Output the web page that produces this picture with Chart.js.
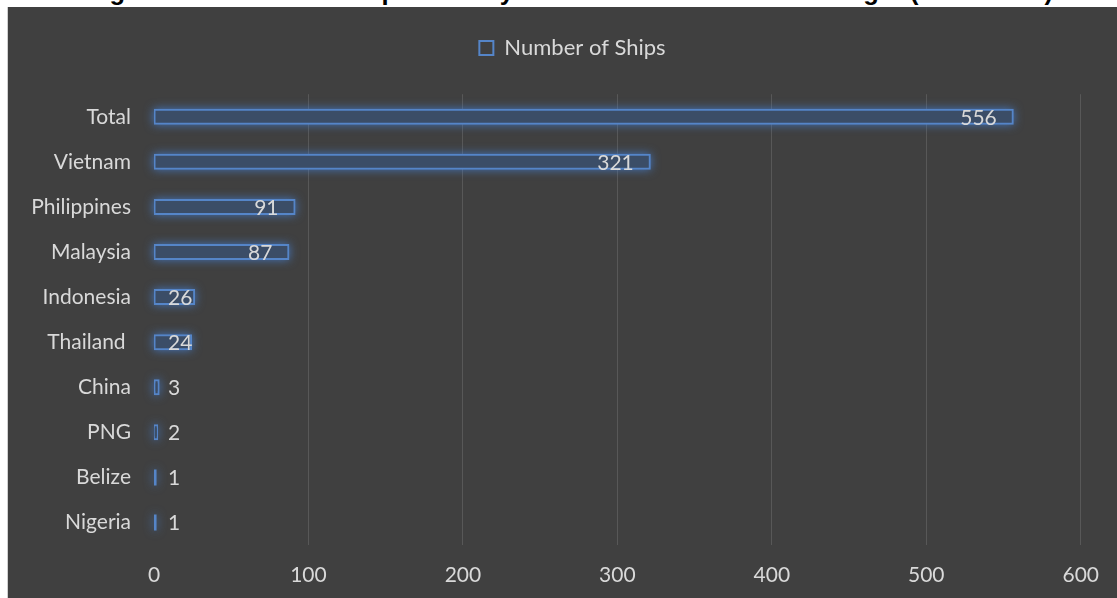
<!DOCTYPE html>
<html>
<head>
<meta charset="utf-8">
<script src="https://cdn.jsdelivr.net/npm/chart.js@4/dist/chart.umd.min.js"></script>
<style>
  body { margin: 0; background: #fff; width: 1117px; height: 598px; overflow: hidden; position: relative; }
  #title { position: absolute; left: 0; top: 0; width: 1117px; height: 7px; overflow: hidden; }
  #title span { position: absolute; left: 86px; top: -24px; font: bold 25.5px "Liberation Sans", sans-serif; line-height: 30px; letter-spacing: 0.4px; color: #000; white-space: nowrap; }
  #panel { position: absolute; left: 7px; top: 7px; width: 1110px; height: 591px; background: #404040; border-left: 1px solid #d0d0d0; box-sizing: border-box; }
  canvas { display: block; }
</style>
</head>
<body>
<div id="title"><span>Figure 3: Number of ships destroyed and their countries of origin (2014-2019)</span></div>
<div id="panel"><canvas id="shipsChart" width="1109" height="591"></canvas></div>
<script>
// donnees
var countries = ['Total', 'Vietnam', 'Philippines', 'Malaysia', 'Indonesia', 'Thailand ', 'China', 'PNG', 'Belize', 'Nigeria'];
var ships = [556, 321, 91, 87, 26, 24, 3, 2, 1, 1];
var xTicks = [0, 100, 200, 300, 400, 500, 600];
var seriesName = 'Number of Ships';

var txtColor = '#d9d9d9';
var blue = '#5585c8';
var barFill = '#3b4d67';
var fontFam = 'Lato, "Open Sans", sans-serif';

// halo bleu autour des barres + etiquettes de valeurs
var glowPlugin = {
  id: 'glow',
  afterLayout: function(chart) {
    // legende un peu a droite du centre, comme dans Excel
    chart.legend.left += 28;
    chart.legend.right += 28;
  },
  beforeDatasetsDraw: function(chart) {
    var ctx = chart.ctx;
    var meta = chart.getDatasetMeta(0);
    ctx.save();
    ctx.shadowColor = 'rgba(70,130,215,0.8)';
    ctx.shadowBlur = 10;
    ctx.shadowOffsetX = 5000;
    ctx.fillStyle = '#000';
    meta.data.forEach(function(bar) {
      var p = bar.getProps(['x', 'y', 'base', 'height'], true);
      var left = Math.min(p.x, p.base) - 1;
      var w = Math.abs(p.x - p.base) + 2;
      ctx.fillRect(left - 5000, p.y - p.height / 2 - 1, w, p.height + 2);
    });
    ctx.restore();
  },
  afterDatasetsDraw: function(chart) {
    var ctx = chart.ctx;
    var meta = chart.getDatasetMeta(0);
    var base = chart.scales.x.getPixelForValue(0);
    ctx.save();
    ctx.font = '21px ' + fontFam;
    ctx.fillStyle = txtColor;
    ctx.textBaseline = 'middle';
    ctx.textAlign = 'left';
    meta.data.forEach(function(bar, i) {
      var label = String(ships[i]);
      var w = ctx.measureText(label).width;
      var left = Math.max(bar.x - 16 - w, base + 14);
      ctx.fillText(label, left, bar.y + 1);
    });
    ctx.restore();
  }
};

var ctx1 = document.getElementById('shipsChart').getContext('2d');
var chart1 = new Chart(ctx1, {
  type: 'bar',
  data: {
    labels: countries,
    datasets: [{
      label: seriesName,
      data: ships,
      // les barres de 1 sont trop fines : pleines
      backgroundColor: function(c) { return c.raw <= 1 ? blue : barFill; },
      borderColor: blue,
      borderWidth: function(c) { return c.raw <= 1 ? 0 : 2; },
      borderSkipped: false,
      inflateAmount: 1,
      barThickness: 14
    }]
  },
  options: {
    indexAxis: 'y',
    responsive: false,
    animation: false,
    layout: { padding: { top: 22, right: 36, bottom: 0, left: 0 } },
    scales: {
      x: {
        min: 0,
        max: 600,
        afterBuildTicks: function(axis) {
          axis.ticks = xTicks.map(function(v) { return { value: v }; });
        },
        afterFit: function(axis) { axis.height = 53; },
        border: { display: false },
        grid: {
          drawTicks: false,
          color: function(c) { return c.tick && c.tick.value === 0 ? 'rgba(0,0,0,0)' : '#585858'; },
          lineWidth: 1
        },
        ticks: { color: txtColor, font: { size: 21, family: fontFam }, padding: 18 }
      },
      y: {
        afterFit: function(axis) { axis.width = 146; },
        border: { display: false },
        grid: { display: false, drawTicks: false },
        ticks: { color: txtColor, font: { size: 21, family: fontFam }, padding: 23 }
      }
    },
    plugins: {
      legend: {
        display: true,
        position: 'top',
        labels: {
          color: txtColor,
          font: { size: 22, family: fontFam },
          boxWidth: 14,
          boxHeight: 14,
          padding: 8,
          generateLabels: function(chart) {
            return [{
              text: seriesName,
              fillStyle: 'rgba(0,0,0,0)',
              strokeStyle: blue,
              lineWidth: 2,
              fontColor: txtColor,
              datasetIndex: 0
            }];
          }
        }
      },
      // espace vide entre la legende et les barres
      title: {
        display: true,
        text: ' ',
        weight: 100,
        font: { size: 1 },
        padding: 12
      },
      tooltip: { enabled: false }
    }
  },
  plugins: [glowPlugin]
});
</script>
</body>
</html>
